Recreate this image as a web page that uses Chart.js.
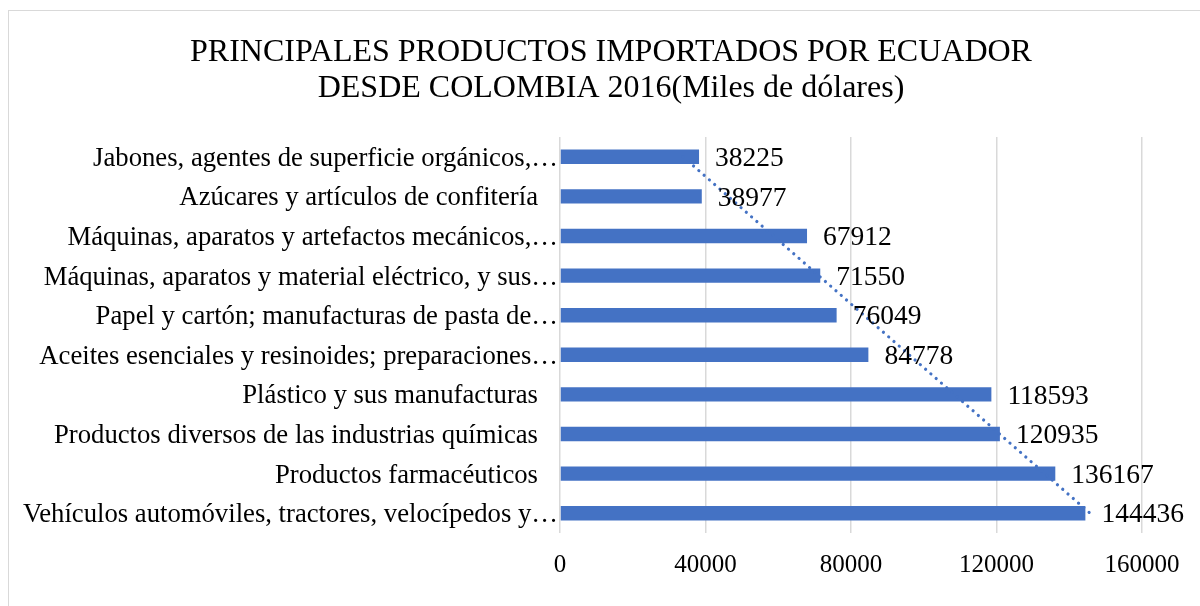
<!DOCTYPE html>
<html>
<head>
<meta charset="utf-8">
<title>Principales productos importados por Ecuador desde Colombia 2016</title>
<script src="https://cdn.jsdelivr.net/npm/chart.js@4"></script>
<style>
  html, body { margin: 0; padding: 0; background: #fff; }
  #wrap { width: 1200px; height: 606px; position: relative; }
</style>
</head>
<body>
<div id="wrap"><canvas id="importsChart"></canvas></div>
<script>
// Chart data (top to bottom, as shown)
const categories = [
    'Jabones, agentes de superficie orgánicos,…',
    'Azúcares y artículos de confitería',
    'Máquinas, aparatos y artefactos mecánicos,…',
    'Máquinas, aparatos y material eléctrico, y sus…',
    'Papel y cartón; manufacturas de pasta de…',
    'Aceites esenciales y resinoides; preparaciones…',
    'Plástico y sus manufacturas',
    'Productos diversos de las industrias químicas',
    'Productos farmacéuticos',
    'Vehículos automóviles, tractores, velocípedos y…'
];
const values = [38225, 38977, 67912, 71550, 76049, 84778, 118593, 120935, 136167, 144436];
const xTicks = [0, 40000, 80000, 120000, 160000];
const titleLines = ['PRINCIPALES PRODUCTOS IMPORTADOS POR ECUADOR', 'DESDE COLOMBIA 2016(Miles de dólares)'];

const FONT = "'Liberation Serif', 'Times New Roman', serif";
const BLUE = '#4472c4';
const GRID = '#d9d9d9';

// Linear trendline over the category order (same as Excel's linear trend)
const n = values.length;
const xm = (n - 1) / 2;
const ym = values.reduce((a, b) => a + b, 0) / n;
let sxy = 0, sxx = 0;
values.forEach((v, i) => { sxy += (i - xm) * (v - ym); sxx += (i - xm) * (i - xm); });
const slope = sxy / sxx;
const trend = values.map((v, i) => ym + slope * (i - xm));

// Frame, title, category labels and value labels
const decorations = {
    id: 'decorations',
    beforeDraw(chart) {
        const ctx = chart.ctx;
        ctx.save();
        ctx.fillStyle = '#fff';
        ctx.fillRect(0, 0, chart.width, chart.height);
        ctx.strokeStyle = GRID;
        ctx.lineWidth = 1;
        ctx.strokeRect(8.5, 10.5, chart.width + 20, chart.height + 20);
        ctx.restore();
    },
    afterDraw(chart) {
        const ctx = chart.ctx;
        const yScale = chart.scales.y;
        const area = chart.chartArea;
        ctx.save();
        ctx.fillStyle = '#000';

        // title
        ctx.font = '32px ' + FONT;
        ctx.textAlign = 'center';
        ctx.textBaseline = 'middle';
        ctx.fillText(titleLines[0], 611, 53);
        ctx.fillText(titleLines[1], 611, 89);

        // category labels
        ctx.font = '26.7px ' + FONT;
        ctx.textAlign = 'right';
        categories.forEach((c, i) => {
            const y = yScale.getPixelForValue(i);
            const x = c.endsWith('…') ? area.left - 2 : area.left - 22;
            ctx.fillText(c, x, y + 2);
        });

        // value labels
        ctx.font = '27.5px ' + FONT;
        ctx.textAlign = 'left';
        const meta = chart.getDatasetMeta(0);
        meta.data.forEach((bar, i) => {
            ctx.fillText(String(values[i]), bar.x + 16, bar.y + 2);
        });
        ctx.restore();
    }
};

const ctx = document.getElementById('importsChart');
new Chart(ctx, {
    type: 'bar',
    data: {
        labels: categories,
        datasets: [{
            type: 'bar',
            data: values,
            backgroundColor: BLUE,
            barPercentage: 0.363,
            categoryPercentage: 1,
            order: 1
        }, {
            type: 'line',
            data: trend,
            borderColor: BLUE,
            borderWidth: 3.2,
            borderDash: [0.01, 7],
            borderCapStyle: 'round',
            pointRadius: 0,
            fill: false,
            order: 0
        }]
    },
    options: {
        indexAxis: 'y',
        responsive: true,
        maintainAspectRatio: false,
        animation: false,
        layout: { padding: { left: 8, right: 58, top: 137, bottom: 9 } },
        plugins: {
            legend: { display: false },
            title: { display: false },
            tooltip: { enabled: false }
        },
        scales: {
            x: {
                min: 0,
                max: 160000,
                afterBuildTicks(scale) {
                    scale.ticks = xTicks.map(v => ({ value: v }));
                },
                ticks: {
                    color: '#000',
                    font: { family: FONT, size: 25 },
                    padding: 17,
                    maxRotation: 0,
                    callback: v => String(v)
                },
                grid: { color: GRID, lineWidth: 1.5, drawTicks: false },
                border: { display: false }
            },
            y: {
                afterFit(scale) { scale.width = 552; },
                ticks: { display: false },
                grid: { display: false },
                border: { display: false }
            }
        }
    },
    plugins: [decorations]
});
</script>
</body>
</html>
